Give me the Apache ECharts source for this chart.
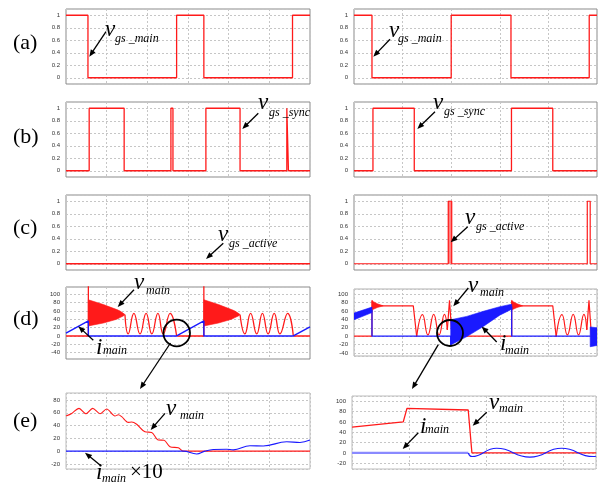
<!DOCTYPE html>
<html><head><meta charset="utf-8">
<script src="https://cdn.jsdelivr.net/npm/echarts@6/dist/echarts.min.js"></script>
<style>html,body{margin:0;padding:0;background:#fff}#c{width:602px;height:487px}</style>
</head><body><div id="c"></div><script>
// ---------- data ----------
// (a) gate signal of main switch
const vgsMainL = [[0,1],[0.54,1],[0.54,0],[2.72,0],[2.72,1],[3.39,1],[3.39,0],[5.57,0],[5.57,1],[6,1]];
const vgsMainR = [[0,1],[0.37,1],[0.37,0],[2.0,0],[2.0,1],[3.23,1],[3.23,0],[4.84,0],[4.84,1],[5,1]];
// (b) gate signal of sync switch
const vgsSyncL = [[0,0],[0.57,0],[0.57,1],[1.43,1],[1.43,0],[2.58,0],[2.58,1],[2.63,1],[2.63,0],[3.44,0],[3.44,1],[4.28,1],[4.28,0],[5.43,0],[5.43,1],[5.47,1],[5.47,0],[6,0]];
const vgsSyncR = [[0,0],[0.39,0],[0.39,1],[1.24,1],[1.24,0],[3.24,0],[3.24,1],[4.09,1],[4.09,0],[5,0]];
// (c) gate signal of active switch
const vgsActiveL = [[0,0],[6,0]];
const vgsActiveR = [[0,0],[1.94,0],[1.94,1],[2.01,1],[2.01,0],[4.8,0],[4.8,1],[4.86,1],[4.86,0],[5,0]];
const vgsActiveRFill = [[1.94,0,1],[2.01,0,1]];
// (d) left: v_main (edges, ringing envelope [x,lo,hi], resonance) and i_main
const vMainLEdges = [[[0,0],[0.55,0],[0.55,125]],[[2.72,0],[3.39,0],[3.39,125]],[[5.59,0],[6,0]]];
const vMainLRing = [[[0.55,24,86.5],[0.92,31,75],[1.25,40,63],[1.33,44,59.5],[1.41,48,54],[1.45,51,51]],
                    [[3.39,24,86.5],[3.75,31,75],[4.07,40,63],[4.155,44,59.5],[4.24,48,54],[4.28,51,51]]];
const vMainLOsc = [[[1.45,51],[1.53,5],[1.67,54],[1.82,5],[1.97,54],[2.11,5],[2.26,54],[2.39,5],[2.56,54],[2.72,0]],
                   [[4.28,51],[4.40,5],[4.54,54],[4.69,5],[4.83,54],[4.97,5],[5.12,54],[5.26,5],[5.45,54],[5.59,0]]];
const iMainL = [[0,7],[0.55,36],[0.55,0],[2.72,0],[3.39,36],[3.39,0],[5.59,0],[6,22]];
// (d) right
const vMainREdges = [[[0,0],[0.37,0],[0.37,85],[0.37,73],[0.6,72],[1.22,72],[1.29,-1]],
                     [[1.92,15],[1.965,85],[1.996,85],[2.016,0],[3.245,0],[3.245,85],[3.245,73],[3.47,72],[4.09,72],[4.16,-1]],
                     [[4.79,15],[4.835,85],[4.866,85],[4.886,0],[5,0]]];
const vMainRRing = [[[0.37,62,85],[0.40,64,82],[0.48,68,77],[0.60,72,72]],
                    [[3.245,62,85],[3.275,64,82],[3.355,68,77],[3.47,72,72]]];
const vMainROsc = [[[1.29,-1],[1.41,51],[1.52,3],[1.64,52],[1.75,3],[1.86,52],[1.92,15]],
                   [[4.16,-1],[4.28,51],[4.39,3],[4.51,52],[4.62,3],[4.73,52],[4.79,15]]];
const iMainRBands = [[[0,39,55],[0.37,56,69]],
                     [[1.99,-21,39],[2.32,-1,47],[2.66,23,59],[3.0,50,70],[3.245,64,76]],
                     [[4.86,-25,22],[5,-22,20]]];
const iMainR = [[[0.37,62],[0.37,0],[1.27,0],[1.30,-4],[1.34,0],[1.99,0],[1.99,-21]],
                [[3.245,70],[3.245,0],[4.14,0],[4.17,-4],[4.21,0],[4.86,0]]];
// (e) left (zoom)
const vMainEL = [[0,55],[0.14,59],[0.32,67],[0.49,58.6],[0.655,67],[0.836,58.6],[0.999,66],[1.205,55],[1.287,57],[1.369,54],[1.533,45],[1.615,45.5],[1.738,42],[1.943,30.3],[2.107,29.3],[2.271,17.3],[2.41,17],[2.557,6.8],[2.762,5.2],[2.885,0],[6,0]];
const iMainEL = [[0,0],[2.885,0],[3.213,-4.5],[3.418,0],[3.62,2.6],[3.95,3],[4.114,2],[4.524,8.4],[4.851,8],[5.426,14.6],[5.754,13.6],[6,17.3]];
// (e) right (zoom)
const vMainER = [[0.25,50],[0.916,60],[0.964,86],[1.76,83],[1.808,0],[3.42,0]];
const iMainERFlat = [[0.25,0],[1.76,0]];
const iMainER = [[1.76,0],[1.808,-7],[2.129,9],[2.562,-8],[2.973,9],[3.384,-7],[3.42,-6.5]];
// axis ranges
const gateY = {min:-0.1, max:1.1, step:0.2};
const dLY = {min:-55, max:117, step:20};
const dRY = {min:-47, max:112, step:20};
const eLY = {min:-28, max:91, step:20};
const eRY = {min:-31, max:110, step:20};

// ---------- layout ----------
const RED = '#ff1a1a', BLUE = '#1a1aff';
const boxes = [
  [66,9,244,75],[354,9,243,75],
  [66,102,244,75],[354,102,243,75],
  [66,195,244,75],[354,195,243,75],
  [66,287,244,72],[354,289,243,67],
  [66,393,244,76],[352,396,244,73]
];
const xr = [[0,6],[0,5],[0,6],[0,5],[0,6],[0,5],[0,6],[0,5],[0,6],[0.25,3.42]];
const yr = [gateY,gateY,gateY,gateY,gateY,gateY,dLY,dRY,eLY,eRY];

const grid = boxes.map((b,i)=>({left:b[0],top:b[1],width:b[2],height:b[3],show:true,
  borderColor: i>=8 ? '#bdbdbd' : (i===7 ? '#b0b0b0' : '#8a8a8a'), borderWidth:1, backgroundColor:'rgba(0,0,0,0)'}));
const split = {show:true,lineStyle:{color:'#c6c6c6',width:1,type:[2,2]}};
const xAxis = xr.map((r,i)=>({gridIndex:i,type:'value',min:r[0],max:r[1],minInterval:1,maxInterval:1,
  axisLabel:{show:false},axisTick:{show:false},axisLine:{show:false},splitLine:split}));
const yAxis = yr.map((r,i)=>({gridIndex:i,type:'value',min:r.min,max:r.max,minInterval:r.step,maxInterval:r.step,
  axisTick:{show:false},axisLine:{show:false},splitLine:split,
  axisLabel:{fontSize:6,color:'#333',margin:6,fontFamily:'Liberation Sans',showMinLabel:false,showMaxLabel:false}}));

const series = [];
function L(g,data,color,w,extra){
  series.push(Object.assign({type:'line',xAxisIndex:g,yAxisIndex:g,data:data,symbol:'none',silent:true,
    animation:false,lineStyle:{color:color,width:w},z:2},extra||{}));
}
// filled band between a lower and an upper envelope, drawn through the axes' scales
function band(g,arr,color,z){
  series.push({type:'custom',xAxisIndex:g,yAxisIndex:g,clip:true,silent:true,animation:false,z:z,
    data:[[arr[0][0],arr[0][1]]],
    renderItem:function(params,api){
      const up = arr.map(p=>api.coord([p[0],p[2]]));
      const lo = arr.slice().reverse().map(p=>api.coord([p[0],p[1]]));
      return {type:'polygon',shape:{points:up.concat(lo)},style:{fill:color,stroke:color,lineWidth:0.6}};
    }});
}
// (a)-(c)
L(0,vgsMainL,RED,1.3); L(1,vgsMainR,RED,1.3);
L(2,vgsSyncL,RED,1.3); L(3,vgsSyncR,RED,1.3);
L(4,vgsActiveL,RED,1.3); L(5,vgsActiveR,RED,1.2);
band(5,vgsActiveRFill,'#ff8080',1);
// (d) left
vMainLEdges.forEach(s=>L(6,s,RED,1.3));
vMainLRing.forEach(s=>band(6,s,RED,2));
vMainLOsc.forEach(s=>L(6,s,RED,1.3,{smooth:0.5}));
L(6,iMainL,BLUE,1.4,{z:3});
// (d) right
vMainREdges.forEach(s=>L(7,s,RED,1.2));
vMainRRing.forEach(s=>band(7,s,RED,2));
vMainROsc.forEach(s=>L(7,s,RED,1.2,{smooth:0.5}));
iMainRBands.forEach(s=>band(7,s,BLUE,3));
iMainR.forEach(s=>L(7,s,BLUE,1.3,{z:3}));
// (e)
L(8,vMainEL,RED,1.1,{smooth:0.3});
L(8,iMainEL,BLUE,1.1,{smooth:0.4,z:3});
L(9,iMainERFlat,'#8a8aff',2.2);
L(9,vMainER,RED,1.3,{z:3});
L(9,iMainER,BLUE,1.1,{smooth:0.5,z:3});

// ---------- annotations ----------
const SERIF = '"Liberation Serif","Times New Roman",serif';
const gfx = [];
function T(x,y,text,size,italic){
  gfx.push({type:'text',x:x,y:y,silent:true,z:100,style:{text:text,font:(italic===false?'':'italic ')+size+'px '+SERIF,
    fill:'#000',align:'left',verticalAlign:'middle',textAlign:'left',textVerticalAlign:'middle'}});
}
function A(x1,y1,x2,y2){
  const dx=x2-x1, dy=y2-y1, len=Math.sqrt(dx*dx+dy*dy), ux=dx/len, uy=dy/len, hl=7, hw=2.8;
  const bx=x2-ux*hl, by=y2-uy*hl;
  gfx.push({type:'line',silent:true,z:100,shape:{x1:x1,y1:y1,x2:bx+ux*1,y2:by+uy*1},style:{stroke:'#000',lineWidth:1.3}});
  gfx.push({type:'polygon',silent:true,z:100,shape:{points:[[x2,y2],[bx-uy*hw,by+ux*hw],[bx+uy*hw,by-ux*hw]]},style:{fill:'#000'}});
}
function C(cx,cy,r){
  gfx.push({type:'circle',silent:true,z:100,shape:{cx:cx,cy:cy,r:r},style:{fill:null,stroke:'#000',lineWidth:1.8}});
}
// row labels
[['(a)',43],['(b)',137],['(c)',228],['(d)',319],['(e)',421]].forEach(p=>T(13,p[1],p[0],22,false));
// (a)
T(105,30.3,'v',23); T(115,38.7,'gs _main',12); A(106,31.7,89.3,56.7);
T(389,31.2,'v',23); T(398,39,'gs _main',12); A(390,39.3,373.3,56.7);
// (b)
T(258,103,'v',23); T(269,112.7,'gs _sync',12); A(258.3,113.3,242.3,129);
T(433,102.5,'v',23); T(444,112,'gs _sync',12); A(435,111.7,417.3,129);
// (c)
T(218,234.5,'v',23); T(229,243.7,'gs _active',12); A(223.3,243.3,206,259);
T(465,217.8,'v',23); T(476,226.7,'gs _active',12); A(467.7,226.7,450.7,242.3);
// (d)
T(134,283,'v',23); T(146,291,'main',12); A(134,289.7,117.7,307);
T(96,347.5,'i',23); T(103,351,'main',12); A(93.3,340.3,78.3,326.3);
C(176.7,333,13.3); A(170.5,343,140,389);
T(468,285.5,'v',23); T(480,292.7,'main',12); A(468.3,288,453.3,306.3);
T(500,344,'i',23); T(505,350.4,'main',12); A(496.7,342,481.7,326.5);
C(450,333,13); A(438.3,344.7,412,389);
// (e)
T(166,408.5,'v',23); T(180,416,'main',12); A(165,413.3,150.7,430);
T(96,472.5,'i',23); T(102,478.7,'main',12); T(130,472,'\u00d710',21,false); A(100,465,85,452.7);
T(489,402.5,'v',23); T(499,408.7,'main',12); A(486.7,412.3,472.7,425.7);
T(420,426.5,'i',23); T(425,430,'main',12); A(418.3,432.7,402.7,449);

const chart = echarts.init(document.getElementById('c'),null,{renderer:'canvas'});
chart.setOption({animation:false,backgroundColor:'#fff',grid:grid,xAxis:xAxis,yAxis:yAxis,series:series,graphic:gfx});
</script></body></html>
